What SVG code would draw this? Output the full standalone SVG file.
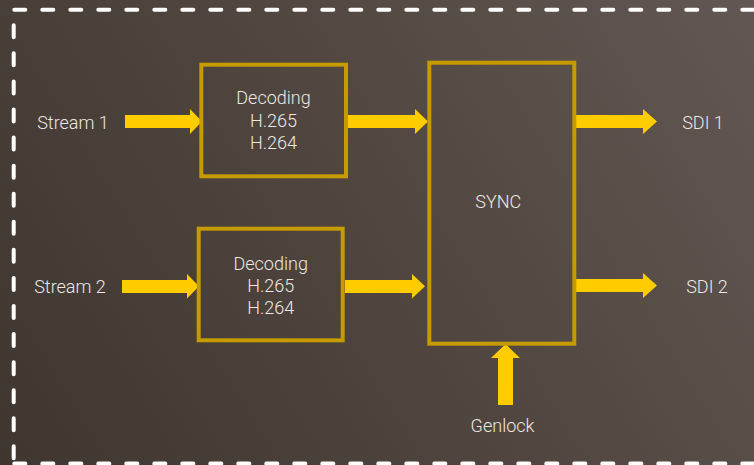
<svg xmlns="http://www.w3.org/2000/svg" width="754" height="465" viewBox="0 0 754 465">
<defs>
<linearGradient id="bg" gradientUnits="userSpaceOnUse" x1="754" y1="0" x2="0" y2="465">
<stop offset="0" stop-color="#625752"/>
<stop offset="0.5" stop-color="#50463f"/>
<stop offset="1" stop-color="#3f3630"/>
</linearGradient>
<style>
.box{fill:none;stroke:#c59b00;stroke-width:4}
.arr{fill:#ffcc00}
.t{font-family:Roboto,"Liberation Sans",sans-serif;font-weight:300;font-size:18px;fill:#ece8e4;text-anchor:middle}
.dash{fill:none;stroke:#ffffff;stroke-width:4;stroke-linecap:round}
</style>
</defs>
<rect x="0" y="0" width="754" height="465" fill="url(#bg)"/>
<g id="frame">
<line class="dash" x1="14.3" y1="9.7" x2="770" y2="9.7" stroke-dasharray="11 17"/>
<line class="dash" x1="14.3" y1="463.5" x2="770" y2="463.5" stroke-dasharray="11 17"/>
<line class="dash" x1="13.7" y1="25.3" x2="13.7" y2="470" stroke-dasharray="12 16.07"/>
</g>
<g id="connectors">
<polygon class="arr" points="125,115 190,115 190,109 202,121.5 190,134 190,128 125,128"/>
<polygon class="arr" points="348,115 415,115 415,109 428,121.5 415,134 415,128 348,128"/>
<polygon class="arr" points="122,280 187,280 187,274 199,286.3 187,298.6 187,293 122,293"/>
<polygon class="arr" points="345,280 412,280 412,274 425,286.3 412,298.6 412,293 345,293"/>
<polygon class="arr" points="575,115 643,115 643,109 657,121.5 643,134 643,128 575,128"/>
<polygon class="arr" points="575,279 643,279 643,273 657,285.5 643,298 643,292 575,292"/>
<polygon class="arr" points="498,405 498,358 491,358 505.5,344 520,358 513,358 513,405"/>
</g>
<g id="stream1"><text class="t" x="73" y="129">Stream 1</text></g>
<g id="stream2"><text class="t" x="70" y="293">Stream 2</text></g>
<g id="decoding1">
<rect class="box" x="201.3" y="64.7" width="144.7" height="111.6"/>
<text class="t" x="273.5" y="104">Decoding</text>
<text class="t" x="273.5" y="127">H.265</text>
<text class="t" x="273.5" y="149">H.264</text>
</g>
<g id="decoding2">
<rect class="box" x="198.7" y="228.7" width="144" height="111.6"/>
<text class="t" x="270.7" y="270">Decoding</text>
<text class="t" x="270.7" y="292">H.265</text>
<text class="t" x="270.7" y="314">H.264</text>
</g>
<g id="sync">
<rect class="box" x="429.3" y="62.7" width="145" height="281"/>
<text class="t" x="498.3" y="208">SYNC</text>
</g>
<g id="sdi1"><text class="t" x="703" y="129">SDI 1</text></g>
<g id="sdi2"><text class="t" x="707" y="293">SDI 2</text></g>
<g id="genlock"><text class="t" x="502.5" y="432">Genlock</text></g>
</svg>
